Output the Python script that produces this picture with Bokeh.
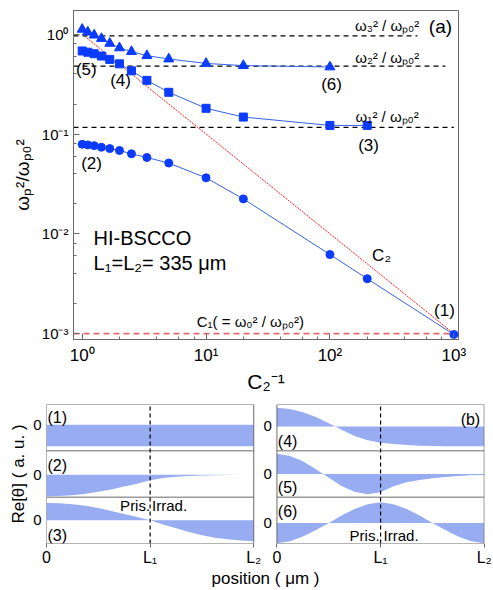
from bokeh.plotting import figure
from bokeh.layouts import column
from bokeh.models import Range1d, Label, CustomJSTickFormatter, LogTicker, FixedTicker
from bokeh.embed import file_html
from bokeh.resources import INLINE

FONT = "Liberation Sans"
MARK_BLUE = "#0b3bff"
LINE_BLUE = "#3562e6"
FILL = "#98acf1"
FRAME = "#6a6a6a"

# ---------------- panel (a) data ----------------
c2_inv = [1, 1.11, 1.25, 1.43, 1.67, 2, 2.5, 3.33, 5, 10, 20, 100, 200, 1000]
tri_y = [1.12, 1.05, 0.98, 0.906, 0.81, 0.73, 0.67, 0.61, 0.565, 0.51, 0.485, 0.47]
sq_y = [0.68, 0.66, 0.638, 0.605, 0.56, 0.505, 0.43, 0.345, 0.262, 0.181, 0.148, 0.122, 0.122]
circ_y = [0.079, 0.0778, 0.0765, 0.0738, 0.0715, 0.0684, 0.0634, 0.0582, 0.0512,
          0.0364, 0.0224, 0.0062, 0.00355, 0.00098]
omega_levels = [0.962, 0.479, 0.1165]
omega_ends = [508, 855, 1000]
omega_texts = ["ω₃² / ωₚ₀²", "ω₂² / ωₚ₀²", "ω₁² / ωₚ₀²"]
c1_level = 0.001
c2_x = [1, 1000]
c2_y = [1, 0.001]

# ---------------- panel (b) data ----------------
pos_um = [0, 42, 84, 126, 168, 209, 251, 293, 335, 377, 419, 461, 503, 544, 586, 628, 670]
L1 = 335
L2 = 670
mode1 = [-1.0, -1.0, -1.0, -1.0, -1.0, -1.0, -1.0, -1.0, -1.0, -1.0, -1.0, -1.0, -1.0, -1.0, -1.0, -1.0, -1.0]
mode2 = [-1.0, -0.985, -0.948, -0.881, -0.791, -0.687, -0.552, -0.418, -0.254, -0.149,
         -0.09, -0.06, -0.037, -0.022, -0.015, -0.007, 0.0]
mode3 = [0.806, 0.791, 0.746, 0.672, 0.567, 0.433, 0.299, 0.149, 0.0, -0.194, -0.373,
         -0.537, -0.687, -0.806, -0.881, -0.94, -0.97]
mode4 = [0.866, 0.806, 0.657, 0.433, 0.149, -0.149, -0.448, -0.642, -0.761, -0.821,
         -0.866, -0.896, -0.91, -0.918, -0.925, -0.925, -0.925]
mode5 = [0.94, 0.836, 0.597, 0.224, -0.179, -0.552, -0.821, -0.94, -0.851, -0.567,
         -0.388, -0.284, -0.194, -0.134, -0.09, -0.06, -0.045]
mode6 = [-0.94, -0.851, -0.627, -0.328, 0.0, 0.343, 0.642, 0.866, 0.955, 0.866, 0.642,
         0.343, 0.0, -0.328, -0.627, -0.851, -0.94]
mode_names = ["(1)", "(2)", "(3)", "(4)", "(5)", "(6)"]

# ================= top panel =================
x0, x1 = 0.851, 1091
top = figure(width=493, height=395, x_axis_type="log", y_axis_type="log",
             x_range=Range1d(x0, x1), y_range=Range1d(0.000873, 1.73),
             output_backend="svg", toolbar_location=None, frame_align=False,
             min_border_left=73, min_border_right=35, min_border_top=10, min_border_bottom=52)
top.grid.visible = False
top.outline_line_color = FRAME
top.outline_line_alpha = 1

sup_js = """
const e = Math.round(Math.log10(tick));
const m = {"-": "\\u207b", "0": "\\u2070", "1": "\\u00b9", "2": "\\u00b2", "3": "\\u00b3",
           "4": "\\u2074", "5": "\\u2075", "6": "\\u2076", "7": "\\u2077", "8": "\\u2078", "9": "\\u2079"};
return "10" + String(e).split("").map(c => m[c]).join("");
"""
for ax, fs in ((top.xaxis, "17px"), (top.yaxis, "15px")):
    ax.ticker = LogTicker(desired_num_ticks=4, mantissas=[1])
    ax.formatter = CustomJSTickFormatter(code=sup_js)
    ax.major_tick_in = 6
    ax.major_tick_out = 0
    ax.minor_tick_in = 3
    ax.minor_tick_out = 0
    ax.axis_line_color = FRAME
    ax.major_tick_line_color = FRAME
    ax.minor_tick_line_color = FRAME
    ax.major_label_text_font = FONT
    ax.major_label_text_font_size = fs
    ax.major_label_text_color = "black"
    ax.axis_label_text_font = FONT
    ax.axis_label_text_font_style = "normal"
    ax.axis_label_text_color = "black"

top.xaxis.axis_label = "C₂⁻¹"
top.xaxis.axis_label_text_font_size = "21px"
top.xaxis.axis_label_standoff = 2
top.xaxis.major_label_standoff = 6
top.yaxis.axis_label = "ωₚ²/ωₚ₀²"
top.yaxis.axis_label_text_font_size = "19px"
top.yaxis.axis_label_standoff = 6

# reference lines
top.line(c2_x, c2_y, line_color="#ff2020", line_width=1, line_dash="2 1")
for lvl, end in zip(omega_levels, omega_ends):
    top.line([x0, end], [lvl, lvl], line_color="black", line_width=1.3, line_dash="5 4")
top.line([x0, x1], [c1_level, c1_level], line_color="#e46a6a", line_width=1.6, line_dash="6 4")

# series
top.line(c2_inv[:len(tri_y)], tri_y, line_color=LINE_BLUE, line_width=1)
top.scatter(c2_inv[:len(tri_y)], tri_y, marker="triangle", size=10, color=MARK_BLUE)
top.line(c2_inv[:len(sq_y)], sq_y, line_color=LINE_BLUE, line_width=1)
top.scatter(c2_inv[:len(sq_y)], sq_y, marker="square", size=8, color=MARK_BLUE)
top.line(c2_inv, circ_y, line_color=LINE_BLUE, line_width=1)
top.scatter(c2_inv, circ_y, marker="circle", size=8, color=MARK_BLUE)


def lab(fig, x, y, text, size="17px", align="center", **kw):
    fig.add_layout(Label(x=x, y=y, text=text, text_font=FONT, text_font_size=size,
                         text_align=align, text_baseline="middle", text_color="black", **kw))


lab(top, 780, 1.2, "(a)", "19px")
for txt, ly in zip(omega_texts, [1.23, 0.59, 0.151]):
    lab(top, 290, ly, txt, "15px")
lab(top, 103, 0.313, "(6)")
lab(top, 205, 0.076, "(3)")
lab(top, 1.08, 0.44, "(5)")
lab(top, 2.04, 0.343, "(4)")
lab(top, 1.19, 0.0505, "(2)")
lab(top, 840, 0.00169, "(1)")
lab(top, 261, 0.00606, "C₂")
lab(top, 1.236, 0.0090, "HI-BSCCO", "20px", "left")
lab(top, 1.236, 0.00505, "L₁=L₂= 335 μm", "20px", "left")
lab(top, 8.4, 0.00131, "C₁( = ω₀² / ωₚ₀²)", "15px", "left")

# ================= bottom panel =================
SHIFT = 745
XR = 1416
bot = figure(width=493, height=195, x_range=Range1d(0, XR), y_range=Range1d(0, 3),
             output_backend="svg", toolbar_location=None, frame_align=False,
             min_border_left=46, min_border_right=9, min_border_top=9, min_border_bottom=42)
bot.grid.visible = False
bot.outline_line_alpha = 0
bot.extra_x_ranges = {"right": Range1d(-SHIFT, XR - SHIFT)}

AMP = 0.4653  # row units per a.u.
left_zero = [2.5625, 1.485, 0.5]
right_zero = [2.527, 1.5, 0.444]
columns = [
    ("default", left_zero, [mode1, mode2, mode3]),
    ("right", right_zero, [mode4, mode5, mode6]),
]
k = 0
for xname, zeros, modes in columns:
    for z, mode in zip(zeros, modes):
        rname = f"row{k}"
        bot.extra_y_ranges[rname] = Range1d(-z / AMP, (3 - z) / AMP)
        bot.varea(x=pos_um, y1=0, y2=mode, fill_color=FILL, fill_alpha=1,
                  x_range_name=xname, y_range_name=rname)
        k += 1
    bot.quad(left=0, right=L2, bottom=0, top=3, fill_alpha=0, line_color=FRAME,
             line_width=1, x_range_name=xname)
    bot.segment(x0=[0, 0], y0=[1, 2], x1=[L2, L2], y1=[1, 2], line_color=FRAME,
                line_width=1, x_range_name=xname)
    bot.segment(x0=[L1], y0=[0], x1=[L1], y1=[3], line_color="black", line_width=1.2,
                line_dash="4 3", x_range_name=xname)

# row labels
for name, ly in zip(mode_names[:3], [2.73, 1.69, 0.17]):
    lab(bot, 3, ly, name, "16px", "left")
for name, ly in zip(mode_names[3:], [2.21, 1.21, 0.69]):
    lab(bot, 3, ly, name, "16px", "left", x_range_name="right")
lab(bot, L2, 2.67, "(b)", "16px", "right", x_range_name="right", x_offset=-4)
lab(bot, L1, 0.81, "Pris.", "15px", "right", x_offset=0)
lab(bot, L1, 0.81, "Irrad.", "15px", "left", x_offset=2)
lab(bot, L1, 0.17, "Pris.", "15px", "right", x_range_name="right", x_offset=-1)
lab(bot, L1, 0.17, "Irrad.", "15px", "left", x_range_name="right", x_offset=3)
for i, z in enumerate(right_zero):
    lab(bot, 0, z, "0", "15px", "right", x_range_name="right", x_offset=-5)

# axes
bot.yaxis.ticker = FixedTicker(ticks=left_zero)
bot.yaxis.major_label_overrides = {z: "0" for z in left_zero}
bot.xaxis.ticker = FixedTicker(ticks=[0, L1, L2, SHIFT, SHIFT + L1, SHIFT + L2])
bot.xaxis.major_label_overrides = {0: "0", L1: "L₁", L2: "L₂",
                                   SHIFT: "0", SHIFT + L1: "L₁", SHIFT + L2: "L₂"}
for ax in (bot.xaxis, bot.yaxis):
    ax.axis_line_alpha = 0
    ax.major_tick_in = 0
    ax.minor_tick_line_alpha = 0
    ax.major_label_text_font = FONT
    ax.major_label_text_color = "black"
    ax.axis_label_text_font = FONT
    ax.axis_label_text_font_style = "normal"
    ax.axis_label_text_color = "black"
    ax.axis_label_text_font_size = "17px"
bot.xaxis.major_tick_out = 4
bot.xaxis.major_tick_line_color = FRAME
bot.xaxis.major_label_text_font_size = "16px"
bot.xaxis.major_label_standoff = 1
bot.xaxis.axis_label_standoff = 0
bot.xaxis.axis_label = "position ( μm )"
bot.yaxis.major_tick_out = 0
bot.yaxis.major_label_text_font_size = "15px"
bot.yaxis.major_label_standoff = 5
bot.yaxis.axis_label = "Re[θ] ( a. u. )"
bot.yaxis.axis_label_standoff = 2

layout = column(top, bot)
open("out.html", "w").write(file_html(layout, INLINE))
